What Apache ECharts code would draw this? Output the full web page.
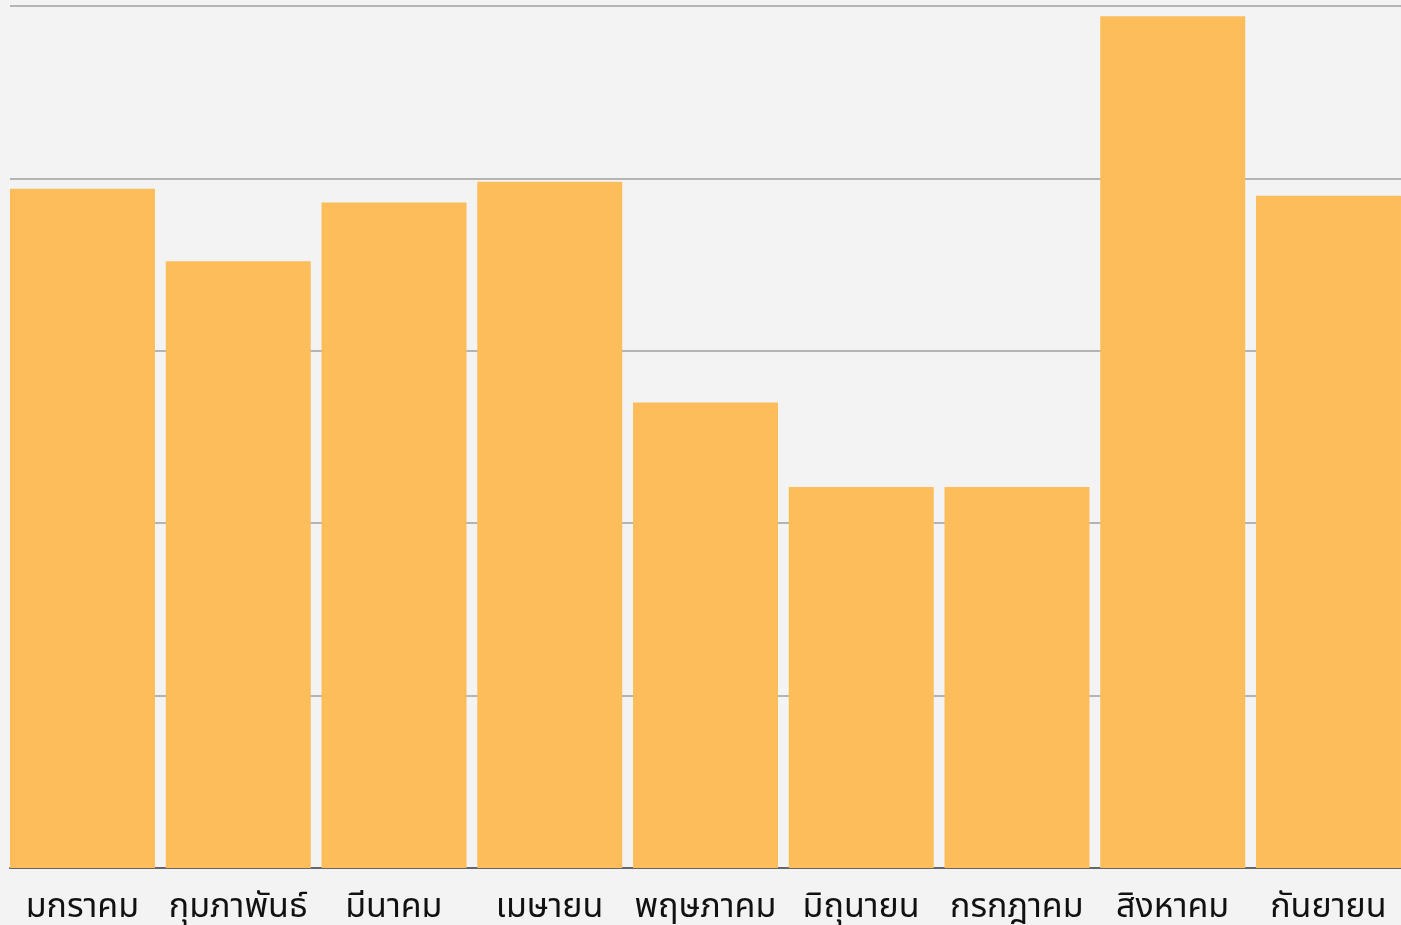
<!DOCTYPE html>
<html><head><meta charset="utf-8">
<script src="https://cdn.jsdelivr.net/npm/echarts@6/dist/echarts.min.js"></script>
<style>html,body{margin:0;padding:0;background:#f3f3f3;}#c{width:1401px;height:925px;}</style>
</head><body><div id="c"></div>
<script>
const categories = ['มกราคม','กุมภาพันธ์','มีนาคม','เมษายน','พฤษภาคม','มิถุนายน','กรกฎาคม','สิงหาคม','กันยายน'];
const values = [394, 352, 386, 398, 270, 221, 221, 494, 390];
const spacer = [0, 0, 0, 0, 0, 0, 0, 0, 0];
const yMin = 0, yMax = 500, yInterval = 100;

const chart = echarts.init(document.getElementById('c'));
chart.setOption({
  backgroundColor: '#f3f3f3',
  animation: false,
  grid: {left: 10, width: 1401.7, top: 6, height: 862, containLabel: false, outerBoundsMode: 'none'},
  xAxis: {
    type: 'category', data: categories,
    axisLine: {show: true, lineStyle: {color: '#666666', width: 2}},
    axisTick: {show: false},
    axisLabel: {color: '#111111', fontSize: 34, margin: 25, interval: 0,
      padding: [0, 11, 0, 0],
      fontFamily: '"Noto Sans Thai","Noto Sans","DejaVu Sans",sans-serif'},
    z: 1
  },
  yAxis: {
    type: 'value', min: yMin, max: yMax, interval: yInterval,
    axisLabel: {show: false}, axisLine: {show: false}, axisTick: {show: false},
    splitLine: {show: true, lineStyle: {color: '#b4b4b4', width: 2}}
  },
  series: [{
    type: 'bar', data: values, barWidth: 145, barGap: '0%',
    itemStyle: {color: '#febd5b'}, z: 3
  }, {
    type: 'bar', data: spacer, barWidth: 10.7, barGap: '0%',
    itemStyle: {color: 'rgba(0,0,0,0)'}, silent: true
  }]
});
</script></body></html>
